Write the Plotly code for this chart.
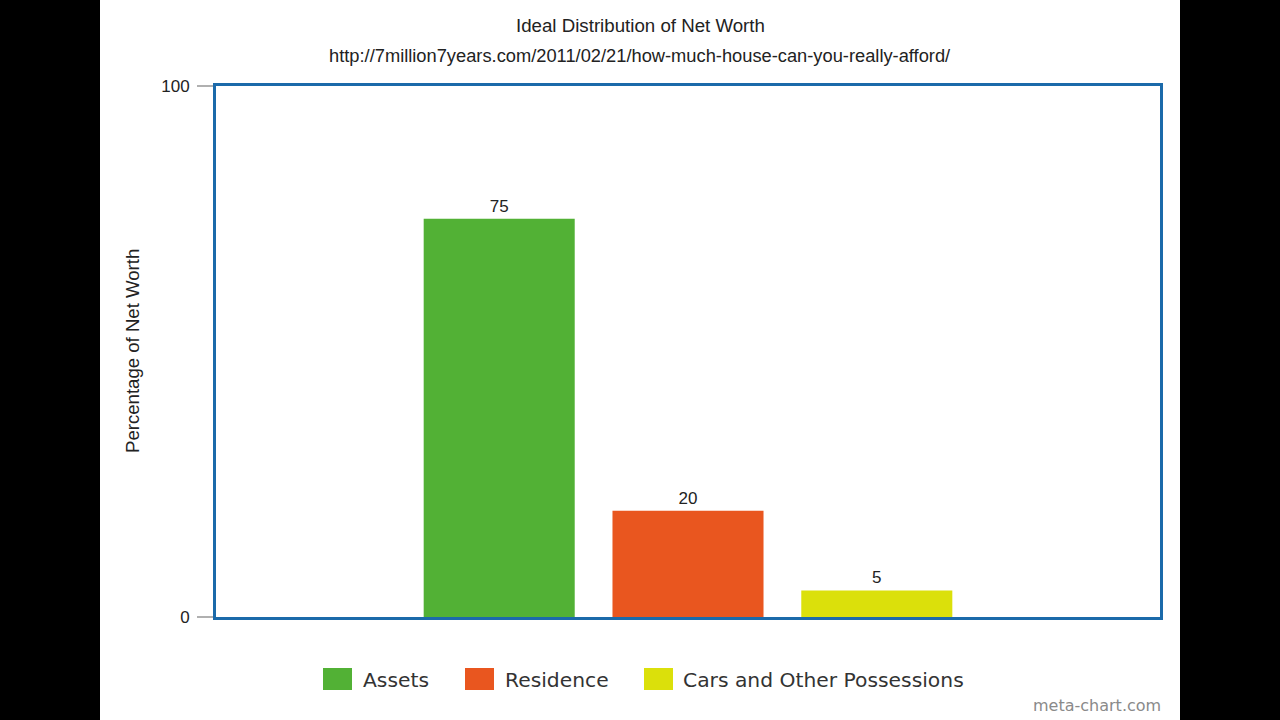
import plotly.graph_objects as go

# ---- data ----
categories = ["Assets", "Residence", "Cars and Other Possessions"]
values = [75, 20, 5]
colors = ["#52b135", "#e9561f", "#dbe00b"]
y_ticks = [0, 100]
title = "Ideal Distribution of Net Worth"
subtitle = "http://7million7years.com/2011/02/21/how-much-house-can-you-really-afford/"
y_title = "Percentage of Net Worth"
credit = "meta-chart.com"

W, H = 1280, 720
L, R, T, B = 216, 1160, 86, 617  # plot area in px (axis lines drawn just outside)


def px_x(x):
    return (x - L) / (R - L)


def px_y(y):
    return (B - y) / (B - T)


fig = go.Figure()
for i, (c, v, col) in enumerate(zip(categories, values, colors)):
    fig.add_trace(go.Bar(
        x=[i], y=[v], name=c, width=[0.8],
        marker=dict(color=col, line=dict(width=0)),
        text=[str(v)], textposition="outside",
        textfont=dict(family="Liberation Sans, Arial", size=17, color="#222"),
        cliponaxis=False, showlegend=False,
    ))

shapes = [
    # white canvas between black side bars
    dict(type="rect", xref="paper", yref="paper", layer="below",
         x0=px_x(100), x1=px_x(1180), y0=px_y(H), y1=px_y(0),
         fillcolor="white", line=dict(width=0)),
]
annotations = [
    dict(text=title, xref="paper", yref="paper", x=px_x(640), y=px_y(26),
         showarrow=False, xanchor="center", yanchor="middle",
         font=dict(family="Liberation Sans, Arial", size=18.7, color="#222")),
    dict(text=subtitle, xref="paper", yref="paper", x=px_x(640), y=px_y(55),
         showarrow=False, xanchor="center", yanchor="middle",
         font=dict(family="Liberation Sans, Arial", size=18.3, color="#222")),
    dict(text=y_title, xref="paper", yref="paper", x=px_x(132), y=px_y(351),
         showarrow=False, xanchor="center", yanchor="middle", textangle=-90,
         font=dict(family="Liberation Sans, Arial", size=18.6, color="#222")),
    dict(text=credit, xref="paper", yref="paper", x=px_x(1163), y=px_y(705),
         showarrow=False, xanchor="right", yanchor="middle",
         font=dict(family="DejaVu Sans", size=16, color="#8a8a8a")),
]

# manual legend (large swatches)
swatch_x = [323, 465, 644]
text_x = [361, 503, 681]
for c, col, sx, tx in zip(categories, colors, swatch_x, text_x):
    shapes.append(dict(type="rect", xref="paper", yref="paper",
                       x0=px_x(sx), x1=px_x(sx + 29), y0=px_y(690), y1=px_y(668),
                       fillcolor=col, line=dict(width=0)))
    annotations.append(dict(text=c, xref="paper", yref="paper", x=px_x(tx), y=px_y(680),
                            showarrow=False, xanchor="left", yanchor="middle",
                            font=dict(family="DejaVu Sans", size=20.3, color="#333")))

fig.update_layout(
    width=W, height=H,
    margin=dict(l=L, r=W - R, t=T, b=H - B, pad=0),
    paper_bgcolor="black", plot_bgcolor="white",
    barmode="overlay", showlegend=False,
    shapes=shapes, annotations=annotations,
    xaxis=dict(range=[-1.5, 3.5], showticklabels=False, ticks="",
               showgrid=False, zeroline=False, showline=True, mirror=True,
               linecolor="#1b6aaa", linewidth=3, fixedrange=True),
    yaxis=dict(range=[0, 100], tickvals=y_ticks, ticktext=[str(t) for t in y_ticks],
               ticks="outside", ticklen=16, tickwidth=2, tickcolor="#b0b0b0",
               ticklabelstandoff=4,
               tickfont=dict(family="Liberation Sans, Arial", size=17, color="#222"),
               showgrid=False, zeroline=False, showline=True, mirror=True,
               linecolor="#1b6aaa", linewidth=3),
)

fig.write_html("out.html")
